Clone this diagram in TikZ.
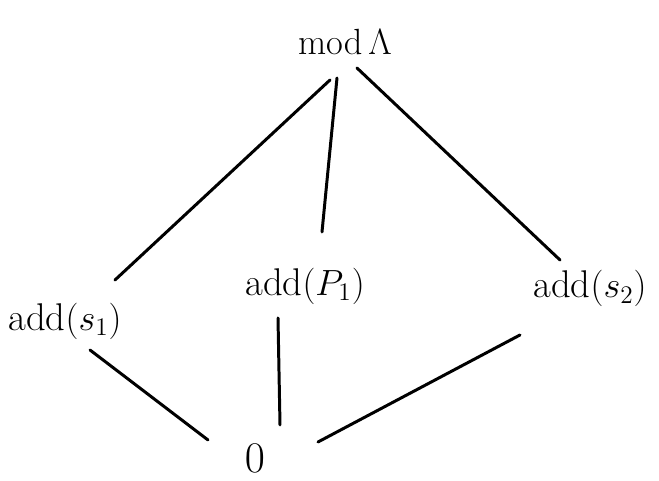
\documentclass[tikz,border=0pt]{standalone}
\usepackage{amsmath,amssymb}
\usetikzlibrary{calc}

\begin{document}
\begin{tikzpicture}[lbl/.style={font=\fontsize{22}{26}\selectfont},
                    edge/.style={line width=1.7pt,line cap=round}]
  \useasboundingbox (0,0) rectangle (13.18,9.62);
  \node[lbl] (mod)  at (6.9,8.78) {$\mathrm{mod}\,\Lambda$};
  \node[lbl] (s1)   at (1.3,3.2)  {add$(s_1)$};
  \node[lbl] (p1)   at (6.1,3.9)  {add$(P_1)$};
  \node[lbl] (s2)   at (11.8,3.85) {add$(s_2)$};
  \node[lbl,font=\fontsize{30}{34}\selectfont,inner sep=1pt] (zero) at (5.1,0.45) {$0$};
  % upper edges
  \draw[edge] ($(mod)+(-0.3,-0.76)$) -- ($(s1)+(1.0,0.82)$);
  \draw[edge] ($(mod)+(-0.16,-0.72)$) -- ($(p1)+(0.34,1.08)$);
  \draw[edge] ($(mod)+(0.24,-0.52)$) -- ($(s2)+(-0.6,0.57)$);
  % lower edges
  \draw[edge] ($(s1)+(0.5,-0.58)$) -- ($(zero)+(-0.94,0.37)$);
  \draw[edge] ($(p1)+(-0.54,-0.64)$) -- ($(zero)+(0.5,0.67)$);
  \draw[edge] ($(s2)+(-1.4,-0.93)$) -- ($(zero)+(1.26,0.33)$);
\end{tikzpicture}
\end{document}
